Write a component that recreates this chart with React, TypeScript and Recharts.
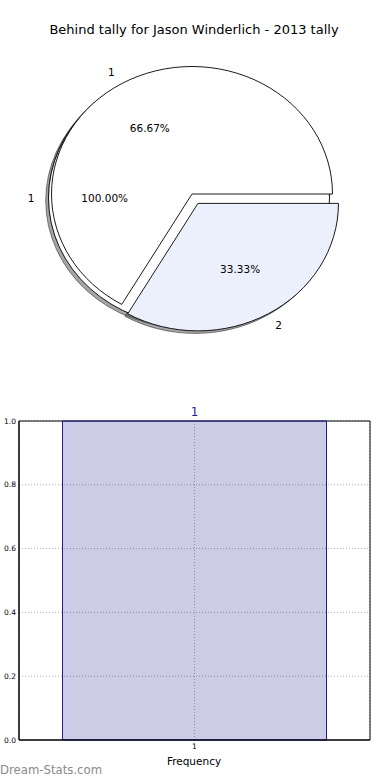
import React from 'react';
import { PieChart, Pie, BarChart, Bar, XAxis, YAxis, CartesianGrid, LabelList } from 'recharts';

// ---- data ----
const title = 'Behind tally for Jason Winderlich - 2013 tally';
const allNames = ['1'];
const allValues = [1];
const allColors = ['#ffffff'];
const mainNames = ['1', '2'];
const mainValues = [2, 1];
const mainColors = ['#ffffff', '#ebf0fc'];
const mainExplode = [0, 0.085];

const barCategories = ['1'];
const barValues = [1];
const barLabels = ['1'];
const yTicks = [0, 0.2, 0.4, 0.6, 0.8, 1.0];
const xTitle = 'Frequency';
const watermark = 'Dream-Stats.com';

const allData = allNames.map((n, i) => ({ name: n, value: allValues[i], color: allColors[i], explode: 0 }));
const mainData = mainNames.map((n, i) => ({ name: n, value: mainValues[i], color: mainColors[i], explode: mainExplode[i] }));
const barData = barCategories.map((c, i) => ({ name: c, value: barValues[i], label: barLabels[i] }));

// ---- pie geometry helpers ----
const FONT = 'DejaVu Sans, sans-serif';
const RAD = Math.PI / 180;
const R = 140.5;
const RATIO = 127.5 / 140.5;

function sectorPath(cx: number, cy: number, rx: number, ry: number, a0: number, a1: number) {
  if (Math.abs(a1 - a0) >= 359.999) {
    return `M${cx + rx},${cy} A${rx},${ry} 0 1 0 ${cx - rx},${cy} A${rx},${ry} 0 1 0 ${cx + rx},${cy} Z`;
  }
  const x0 = cx + rx * Math.cos(a0 * RAD);
  const y0 = cy - ry * Math.sin(a0 * RAD);
  const x1 = cx + rx * Math.cos(a1 * RAD);
  const y1 = cy - ry * Math.sin(a1 * RAD);
  const large = Math.abs(a1 - a0) > 180 ? 1 : 0;
  return `M${cx},${cy} L${x0},${y0} A${rx},${ry} 0 ${large} 0 ${x1},${y1} Z`;
}

function geom(p: any) {
  const payload = p.payload || {};
  const explode = payload.explode ?? p.explode ?? 0;
  const rx = p.outerRadius;
  const ry = p.outerRadius * RATIO;
  const mid = p.midAngle;
  const ox = explode * rx * Math.cos(mid * RAD);
  const oy = -explode * ry * Math.sin(mid * RAD);
  return { cx: p.cx + ox, cy: p.cy + oy, rx, ry, mid, color: payload.color ?? p.color ?? '#fff', name: payload.name ?? p.name };
}

const renderShadow = (p: any) => {
  const g = geom(p);
  const d = sectorPath(g.cx - 0.02 * g.rx, g.cy + 0.02 * g.ry, g.rx, g.ry, p.startAngle, p.endAngle);
  return <path key={`sh-${p.index}`} d={d} fill="#4d4d4d" fillOpacity={0.5} stroke="#000" strokeOpacity={0.5} strokeWidth={0.9} />;
};

const renderWedge = (p: any) => {
  const g = geom(p);
  const d = sectorPath(g.cx, g.cy, g.rx, g.ry, p.startAngle, p.endAngle);
  return <path key={`w-${p.index}`} d={d} fill={g.color} stroke="#000" strokeWidth={0.9} strokeLinejoin="miter" />;
};

const renderText = (p: any) => {
  const g = geom(p);
  const c = Math.cos(g.mid * RAD);
  const s = Math.sin(g.mid * RAD);
  const lx = g.cx + 1.1 * g.rx * c;
  const ly = g.cy - 1.1 * g.ry * s;
  const px = g.cx + 0.6 * g.rx * c;
  const py = g.cy - 0.6 * g.ry * s;
  const anchor = c > 0 ? 'start' : 'end';
  return (
    <g key={`t-${p.index}`}>
      <text x={lx} y={ly} dy="0.36em" textAnchor={anchor} fontSize={10.5} fontFamily={FONT} fill="#000">{g.name}</text>
      <text x={px} y={py} dy="0.36em" textAnchor="middle" fontSize={10.5} fontFamily={FONT} fill="#000">{`${(p.percent * 100).toFixed(2)}%`}</text>
    </g>
  );
};

const pieCommon = {
  dataKey: 'value',
  startAngle: 0,
  endAngle: 360,
  outerRadius: R,
  innerRadius: 0,
  fill: 'none',
  stroke: 'none',
  labelLine: false,
  isAnimationActive: false,
};
const ALL_CX = 189;
const ALL_CY = 198;
const MAIN_CX = 192;
const MAIN_CY = 194;

export default function App() {
  return (
    <div style={{ position: 'absolute', left: 0, top: 0, width: 390, height: 780, background: '#fff', overflow: 'hidden' }}>
      <div style={{ position: 'absolute', left: 0, top: 0 }}>
        <PieChart width={390} height={390} margin={{ top: 0, right: 0, bottom: 0, left: 0 }}>
          <Pie {...pieCommon} data={allData} cx={ALL_CX} cy={ALL_CY} label={renderShadow} />
          <Pie {...pieCommon} data={mainData} cx={MAIN_CX} cy={MAIN_CY} label={renderShadow} />
          <Pie {...pieCommon} data={allData} cx={ALL_CX} cy={ALL_CY} label={renderWedge} />
          <Pie {...pieCommon} data={mainData} cx={MAIN_CX} cy={MAIN_CY} label={renderWedge} />
          <Pie {...pieCommon} data={allData} cx={ALL_CX} cy={ALL_CY} label={renderText} />
          <Pie {...pieCommon} data={mainData} cx={MAIN_CX} cy={MAIN_CY} label={renderText} />
        </PieChart>
      </div>
      <div style={{ position: 'absolute', left: 0, top: 400 }}>
        <BarChart width={390} height={380} data={barData} margin={{ top: 21, right: 20, left: 0, bottom: 10 }} barCategoryGap={43.5}>
          <CartesianGrid stroke="#b0b0b0" strokeDasharray="1 2" />
          <CartesianGrid
            stroke="#000"
            horizontalCoordinatesGenerator={({ offset }: any) => [offset.top, offset.top + offset.height]}
            verticalCoordinatesGenerator={({ offset }: any) => [offset.left, offset.left + offset.width]}
          />
          <XAxis
            dataKey="name"
            height={30}
            tickSize={2}
            tickMargin={2}
            tickLine={false}
            axisLine={{ stroke: '#000' }}
            tick={{ fontSize: 7.5, fill: '#000', fontFamily: FONT }}
          />
          <YAxis
            width={19}
            domain={[0, 1]}
            ticks={yTicks}
            tickFormatter={(v: number) => v.toFixed(1)}
            tickSize={0}
            tickMargin={3}
            tickLine={false}
            axisLine={{ stroke: '#000' }}
            tick={{ fontSize: 7.5, fill: '#000', fontFamily: FONT }}
          />
          <Bar dataKey="value" fill="#000080" fillOpacity={0.2} stroke="#1c1c8f" strokeWidth={1} isAnimationActive={false}>
            <LabelList dataKey="label" position="top" offset={5.5} fill="#1f1f9c" fontSize={12} fontFamily={FONT} />
          </Bar>
        </BarChart>
      </div>
      <svg width={390} height={780} style={{ position: 'absolute', left: 0, top: 0, pointerEvents: 'none' }}>
        <text x={194} y={34} textAnchor="middle" fontSize={13} fontFamily={FONT} fill="#000">{title}</text>
        <text x={194} y={764.5} textAnchor="middle" fontSize={10.5} fontFamily={FONT} fill="#000">{xTitle}</text>
        <text x={0} y={774} textAnchor="start" fontSize={11.7} fontFamily={FONT} fill="#8a8a8a">{watermark}</text>
      </svg>
    </div>
  );
}
